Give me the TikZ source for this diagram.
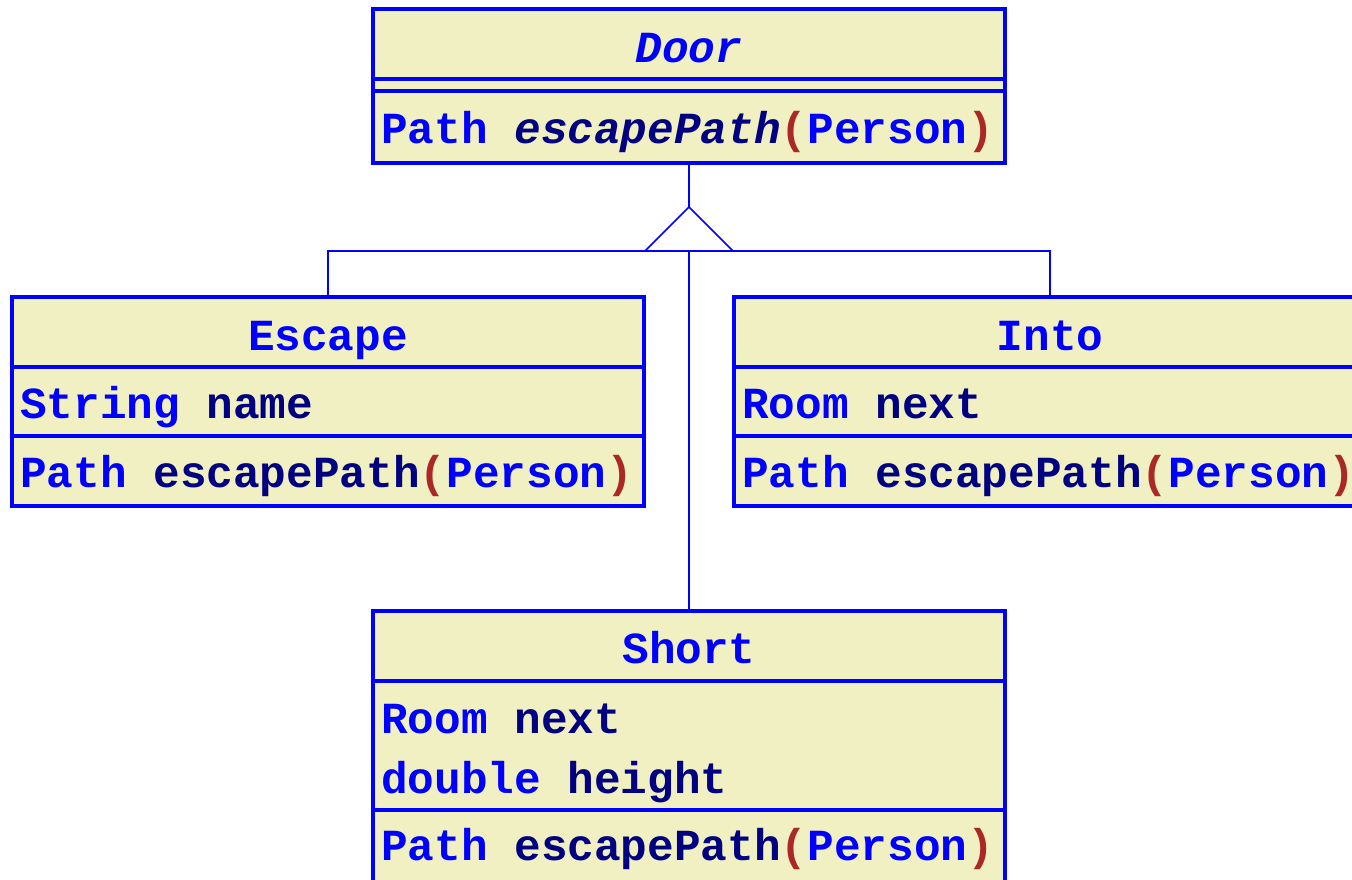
\documentclass[tikz,border=0pt]{standalone}
\usepackage{fontspec}
\setmonofont{Liberation Mono}
\usetikzlibrary{positioning}
\definecolor{umlblue}{RGB}{0,0,255}
\definecolor{umlnavy}{RGB}{0,0,128}
\definecolor{umlparen}{RGB}{170,40,40}
\definecolor{umlfill}{RGB}{240,240,194}
\newcommand{\ty}[1]{\textcolor{umlblue}{#1}}
\newcommand{\nm}[1]{\textcolor{umlnavy}{#1}}
\newcommand{\pa}[1]{\textcolor{umlparen}{#1}}

\begin{document}
\begin{tikzpicture}[
        x=1pt, y=-1pt,
        box/.style={draw=umlblue, fill=umlfill, line width=3.5pt, minimum width=632pt,
            inner sep=0pt, outer sep=0pt, anchor=north},
        txt/.style={inner sep=0pt, anchor=base west, font=\fontsize{44.4}{50}\selectfont\ttfamily\bfseries},
        title/.style={txt, anchor=base, text=umlblue},
        link/.style={draw=umlblue, line width=1.5pt},
    ]
    \useasboundingbox (0,0) rectangle (1352,879);

    % Door
    \node[box, minimum height=70pt] (door) at (689,9) {};
    \node[box, minimum height=12pt] (door-attr) at (door.south) {};
    \node[box, minimum height=72pt] (door-ops) at (door-attr.south) {};
    \node[title] (door-name) at (689,62) {\itshape Door};
    \node[txt] (door-op) at (381,143) {\ty{Path} \nm{\itshape escapePath}\pa{(}\ty{Person}\pa{)}};

    % Escape
    \node[box, minimum height=70pt] (escape) at (328,297) {};
    \node[box, minimum height=69pt] (escape-attr) at (escape.south) {};
    \node[box, minimum height=70pt] (escape-ops) at (escape-attr.south) {};
    \node[title] (escape-name) at (328,350) {Escape};
    \node[txt] (escape-field) at (20,418) {\ty{String} \nm{name}};
    \node[txt] (escape-op) at (20,487) {\ty{Path} \nm{escapePath}\pa{(}\ty{Person}\pa{)}};

    % Into
    \node[box, minimum height=70pt] (into) at (1050,297) {};
    \node[box, minimum height=69pt] (into-attr) at (into.south) {};
    \node[box, minimum height=70pt] (into-ops) at (into-attr.south) {};
    \node[title] (into-name) at (1050,350) {Into};
    \node[txt] (into-field) at (742,418) {\ty{Room} \nm{next}};
    \node[txt] (into-op) at (742,487) {\ty{Path} \nm{escapePath}\pa{(}\ty{Person}\pa{)}};

    % Short
    \node[box, minimum height=70pt] (short) at (689,611) {};
    \node[box, minimum height=129pt] (short-attr) at (short.south) {};
    \node[box, minimum height=72pt] (short-ops) at (short-attr.south) {};
    \node[title] (short-name) at (689,663) {Short};
    \node[txt] (short-field) at (381,733) {\ty{Room} \nm{next}};
    \node[txt] (short-field2) at (381,793) {\ty{double} \nm{height}};
    \node[txt] (short-op) at (381,860) {\ty{Path} \nm{escapePath}\pa{(}\ty{Person}\pa{)}};

    % generalisation
    \coordinate (apex) at (689,207);
    \coordinate (bar) at (689,251);
    \draw[link] (door-ops.south) -- (apex);
    \draw[link] (apex) -- ++(-44,44) -- ++(88,0) -- cycle;
    \draw[link] (escape.north) -- ++(0,-46) -| (into.north);
    \draw[link] (bar) -- (short.north);

\end{tikzpicture}
\end{document}
